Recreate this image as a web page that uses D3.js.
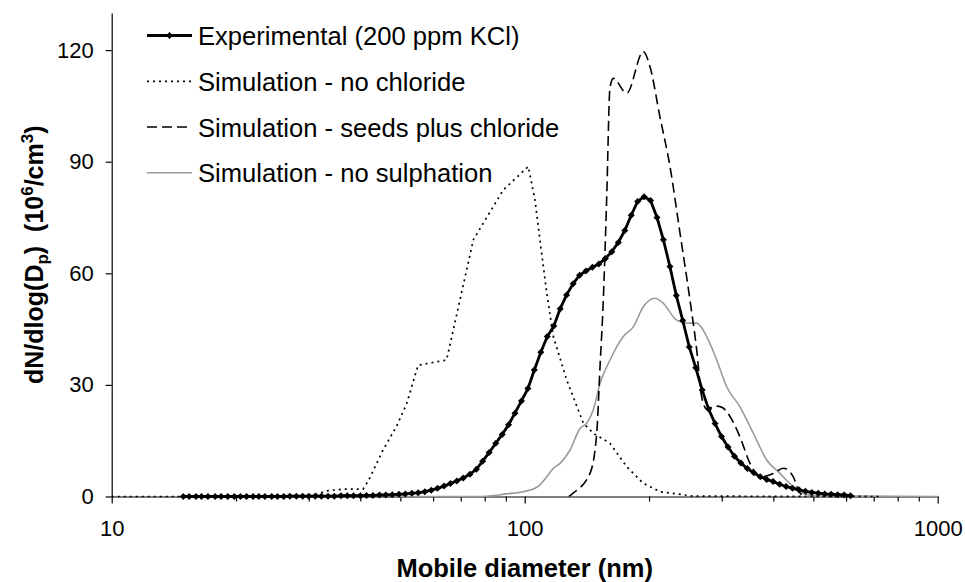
<!DOCTYPE html>
<html>
<head>
<meta charset="utf-8">
<script src="https://cdn.jsdelivr.net/npm/d3@7/dist/d3.min.js"></script>
<style>
  html, body { margin: 0; padding: 0; background: #fff; }
  svg { display: block; font-family: "Liberation Sans", Arial, sans-serif; }
  .axis path, .axis line { stroke: #000; stroke-width: 1.2; }
  .axis text { font-size: 22px; fill: #000; font-family: "Liberation Sans", Arial, sans-serif; }
</style>
</head>
<body>
<svg id="chart" width="965" height="582"></svg>
<script>
// Experimental SMPS size distribution, 200 ppm KCl (mobility diameter in nm, dN/dlogDp in 10^6/cm3)
const expDiameter = [14.9, 15.4, 16.0, 16.5, 17.1, 17.8, 18.4, 19.1, 19.8, 20.5, 21.2, 22.0, 22.7, 23.5,
  24.4, 25.2, 26.1, 27.0, 28.0, 29.0, 30.0, 31.1, 32.2, 33.4, 34.6, 35.9, 37.2, 38.5, 40.0, 41.4, 42.9,
  44.5, 46.1, 47.8, 49.6, 51.4, 53.3, 55.2, 57.3, 59.4, 61.5, 63.8, 66.1, 68.5, 71.0, 73.7, 76.4, 79.1,
  82.0, 85.1, 88.2, 91.4, 94.7, 98.2, 101.8, 105.5, 109.4, 113.4, 117.6, 121.9, 126.3, 131.0, 135.8,
  140.7, 145.9, 151.2, 156.8, 162.5, 168.5, 174.7, 181.1, 187.7, 194.6, 201.7, 209.1, 216.7, 224.7,
  232.9, 241.4, 250.3, 259.5, 269.0, 278.8, 289.0, 299.6, 310.6, 322.0, 333.8, 346.0, 358.7, 371.8,
  385.4, 399.5, 414.2, 429.4, 445.1, 461.4, 478.3, 495.8, 514.0, 532.8, 552.3, 572.5, 593.5, 615.3];
const expValue = [0.0, 0.0, 0.0, 0.0, 0.0, 0.0, 0.0, 0.0, 0.0, 0.0, 0.0, 0.0, 0.0, 0.0,
  0.0, 0.0, 0.0, 0.1, 0.1, 0.1, 0.1, 0.1, 0.1, 0.1, 0.1, 0.2, 0.2, 0.2, 0.2, 0.3, 0.3,
  0.4, 0.4, 0.5, 0.6, 0.7, 0.9, 1.0, 1.3, 1.7, 2.2, 2.8, 3.5, 4.2, 5.0, 6.0, 7.3, 9.5,
  11.8, 14.3, 16.7, 19.3, 22.4, 25.7, 29.0, 34.0, 38.8, 43.0, 45.8, 50.5, 54.2, 57.2, 59.5,
  60.6, 61.6, 62.5, 64.0, 65.8, 68.3, 71.5, 75.6, 79.3, 80.6, 79.6, 75.0, 69.0, 61.8,
  54.0, 47.3, 40.2, 34.6, 28.6, 23.5, 19.6, 16.1, 13.3, 10.8, 9.0, 7.5, 6.4, 5.3,
  4.6, 4.0, 3.3, 2.7, 2.2, 1.8, 1.4, 1.1, 0.9, 0.7, 0.6, 0.5, 0.4, 0.2];

// Simulation without chloride
const noChlorideDiameter = [10, 30, 33.2, 36.3, 40.6, 41.9, 45.4, 49.0, 51.8, 55.2, 64.7, 75.1, 88.7,
  102.0, 105.9, 109.9, 113.1, 117.3, 126.4, 138.7, 146.6, 160.9, 176.6, 193.4, 212.6, 255.6, 726];
const noChlorideValue = [0, 0, 1.5, 2.0, 2.0, 4.4, 12.5, 19.0, 25.0, 35.3, 36.7, 69.0, 82.4,
  88.7, 79.7, 65.4, 54.7, 43.0, 31.3, 19.7, 17.0, 14.3, 8.0, 3.6, 1.3, 0.1, 0];

// Simulation with seeds plus chloride
const seedsDiameter = [128, 131, 144.0, 149.4, 152.2, 155.0, 157.9, 160.9, 163.9, 176.6, 193.7, 201.1,
  212.6, 224.8, 237.7, 251.3, 260.9, 268, 276, 290, 300, 314.1, 332.1, 351.2, 371.3, 399.9, 422.9,
  447.1, 459.7, 472.1];
const seedsValue = [0, 0.9, 6.3, 17.0, 35.0, 52.8, 79.7, 110.0, 112.4, 108.4, 119.6, 115.5,
  102.0, 88.7, 70.8, 52.8, 39.4, 27.0, 23.5, 24.3, 24.0, 21.5, 16.0, 8.9, 5.3, 6.2, 7.6,
  5.3, 1.7, 0];

// Simulation without sulphation
const noSulphDiameter = [49, 77.9, 90.4, 99.1, 105.9, 108.9, 113.1, 117.1, 121.8, 128.8, 136.1, 141.3,
  146.6, 152.2, 160.9, 173.3, 183.2, 193.7, 206.8, 216.6, 233.3, 246.8, 260.9, 275.8, 291.7, 308.4,
  332.1, 357.7, 385.5, 415.1, 447.1, 472.8, 504.6, 1000];
const noSulphValue = [0, 0, 0.7, 1.3, 2.2, 3.1, 5.3, 7.5, 8.9, 12.5, 18.3, 19.7,
  23.3, 30.4, 36.7, 43.0, 45.6, 51.0, 53.3, 51.9, 47.4, 46.6, 46.6, 43.0, 36.7, 29.5,
  24.1, 17.0, 9.8, 6.2, 2.6, 0.9, 0.2, 0];

const seriesNames = ["Experimental (200 ppm KCl)", "Simulation - no chloride",
  "Simulation - seeds plus chloride", "Simulation - no sulphation"];

const xMajorTicks = [10, 100, 1000];
const xMinorTicks = [20, 30, 40, 50, 60, 70, 80, 90, 200, 300, 400, 500, 600, 700, 800, 900];
const yTicks = [0, 30, 60, 90, 120];

const svg = d3.select("#chart");
const plotLeft = 111.7, plotRight = 937.7, plotTop = 12.9, plotBottom = 496.5;

const x = d3.scaleLog().domain([10, 1000]).range([plotLeft, plotRight]);
const y = d3.scaleLinear().domain([0, 130]).range([plotBottom, plotTop]);

const zip = (ds, vs) => ds.map((d, i) => ({ d, v: vs[i] }));

// Axes
svg.append("g").attr("class", "axis")
  .attr("transform", `translate(0,${plotBottom})`)
  .call(d3.axisBottom(x).tickValues(xMinorTicks).tickFormat("").tickSize(5).tickSizeOuter(0))
  .call(g => g.select(".domain").remove());
svg.append("g").attr("class", "axis")
  .attr("transform", `translate(0,${plotBottom})`)
  .call(d3.axisBottom(x).tickValues(xMajorTicks).tickFormat(d3.format("d")).tickSize(7).tickSizeOuter(0).tickPadding(17));
svg.append("g").attr("class", "axis")
  .attr("transform", `translate(${plotLeft},0)`)
  .call(d3.axisLeft(y).tickValues(yTicks).tickSize(6).tickSizeOuter(0).tickPadding(12));

// Series
const linear = d3.line().x(p => x(p.d)).y(p => y(p.v));
const smooth = d3.line().x(p => x(p.d)).y(p => y(p.v)).curve(d3.curveMonotoneX);

const plot = svg.append("g");

plot.append("path").datum(zip(noSulphDiameter, noSulphValue))
  .attr("d", smooth).attr("fill", "none").attr("stroke", "#9a9a9a").attr("stroke-width", 1.6);

plot.append("path").datum(zip(noChlorideDiameter, noChlorideValue))
  .attr("d", linear).attr("fill", "none").attr("stroke", "#000").attr("stroke-width", 1.7)
  .attr("stroke-dasharray", "2,4");

plot.append("path").datum(zip(seedsDiameter, seedsValue))
  .attr("d", smooth).attr("fill", "none").attr("stroke", "#000").attr("stroke-width", 1.6)
  .attr("stroke-dasharray", "10,5");

const expData = zip(expDiameter, expValue);
plot.append("path").datum(expData)
  .attr("d", linear).attr("fill", "none").attr("stroke", "#000").attr("stroke-width", 2.8);

const diamond = r => `M0,${-r}L${r},0L0,${r}L${-r},0Z`;
plot.selectAll("path.marker").data(expData).join("path")
  .attr("class", "marker")
  .attr("transform", p => `translate(${x(p.d)},${y(p.v)})`)
  .attr("d", diamond(3.5)).attr("fill", "#000");

// Legend
const legendRows = [35.5, 81.3, 127, 172.7];
const legendStyles = [
  { stroke: "#000", width: 2.8, dash: null, marker: true },
  { stroke: "#000", width: 1.7, dash: "2,4", marker: false },
  { stroke: "#000", width: 1.6, dash: "10,5", marker: false },
  { stroke: "#9a9a9a", width: 1.6, dash: null, marker: false }
];
const legend = svg.append("g");
seriesNames.forEach((name, i) => {
  const s = legendStyles[i], ly = legendRows[i];
  legend.append("line").attr("x1", 147).attr("x2", 192).attr("y1", ly).attr("y2", ly)
    .attr("stroke", s.stroke).attr("stroke-width", s.width)
    .attr("stroke-dasharray", s.dash);
  if (s.marker) {
    legend.append("path").attr("transform", `translate(169.5,${ly})`).attr("d", diamond(3.5)).attr("fill", "#000");
  }
  legend.append("text").attr("x", 198).attr("y", ly + 9.5)
    .attr("font-size", 25.6).attr("fill", "#000").text(name);
});

// Axis titles
svg.append("text").attr("x", (plotLeft + plotRight) / 2).attr("y", 577)
  .attr("text-anchor", "middle").attr("font-size", 25.5).attr("font-weight", "bold")
  .text("Mobile diameter (nm)");

const yTitle = svg.append("text")
  .attr("transform", `translate(43,${(plotTop + plotBottom) / 2}) rotate(-90)`)
  .attr("text-anchor", "middle").attr("font-size", 25).attr("font-weight", "bold");
yTitle.append("tspan").text("dN/dlog(D");
yTitle.append("tspan").attr("font-size", 17).attr("dy", 5).text("p");
yTitle.append("tspan").attr("dy", -5).text(")\u00a0\u00a0(10");
yTitle.append("tspan").attr("font-size", 17).attr("dy", -10).text("6");
yTitle.append("tspan").attr("dy", 10).text("/cm");
yTitle.append("tspan").attr("font-size", 17).attr("dy", -10).text("3");
yTitle.append("tspan").attr("dy", 10).text(")");
</script>
</body>
</html>
